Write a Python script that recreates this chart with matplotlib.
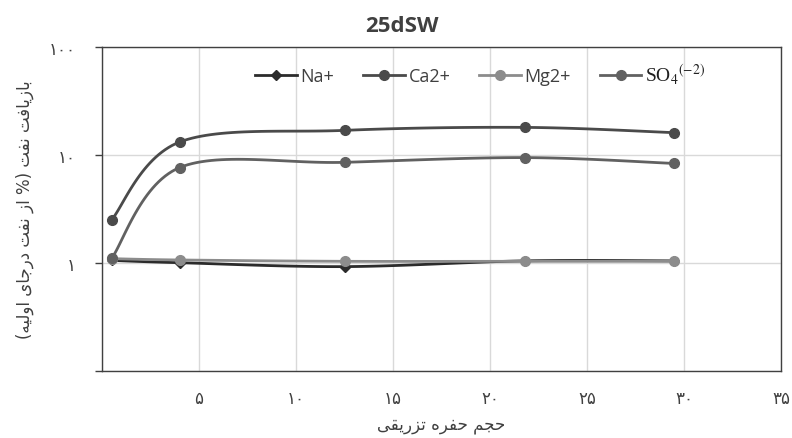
import numpy as np
import matplotlib
matplotlib.use('Agg')
import matplotlib.pyplot as plt
from matplotlib.ticker import FixedLocator, NullLocator

plt.rcParams['mathtext.fontset'] = 'stix'

# داده‌ها (خوانده شده از نمودار)
pore_volume = [0.5, 4, 12.5, 21.8, 29.5]
na_values = [1.05, 1.00, 0.92, 1.04, 1.04]
ca_values = [2.5, 13.1, 16.8, 17.9, 16.0]
mg_values = [1.09, 1.06, 1.03, 1.03, 1.03]
so4_values = [1.10, 7.6, 8.5, 9.4, 8.3]

x_ticks = [0, 5, 10, 15, 20, 25, 30, 35]
x_tick_labels = ['', '۵', '۱۰', '۱۵', '۲۰', '۲۵', '۳۰', '۳۵']
y_ticks = [0.1, 1, 10, 100]
y_tick_labels = ['', '۱', '۱۰', '۱۰۰']

title = '25dSW'
x_label = 'حجم حفره تزریقی'
y_label = 'بازیافت نفت (% از نفت درجای اولیه)'

# شکل‌های اتصال حروف (منفرد، پایانی، آغازی، میانی)
FORMS = {
    'ا': ('\uFE8D', '\uFE8E', None, None),
    'ب': ('\uFE8F', '\uFE90', '\uFE91', '\uFE92'),
    'ت': ('\uFE95', '\uFE96', '\uFE97', '\uFE98'),
    'ج': ('\uFE9D', '\uFE9E', '\uFE9F', '\uFEA0'),
    'ح': ('\uFEA1', '\uFEA2', '\uFEA3', '\uFEA4'),
    'د': ('\uFEA9', '\uFEAA', None, None),
    'ر': ('\uFEAD', '\uFEAE', None, None),
    'ز': ('\uFEAF', '\uFEB0', None, None),
    'ف': ('\uFED1', '\uFED2', '\uFED3', '\uFED4'),
    'ق': ('\uFED5', '\uFED6', '\uFED7', '\uFED8'),
    'ل': ('\uFEDD', '\uFEDE', '\uFEDF', '\uFEE0'),
    'م': ('\uFEE1', '\uFEE2', '\uFEE3', '\uFEE4'),
    'ن': ('\uFEE5', '\uFEE6', '\uFEE7', '\uFEE8'),
    'ه': ('\uFEE9', '\uFEEA', '\uFEEB', '\uFEEC'),
    'و': ('\uFEED', '\uFEEE', None, None),
    'ی': ('\uFEEF', '\uFEF0', '\uFEF3', '\uFEF4'),
}


def shape_rtl(text):
    # matplotlib حروف فارسی را به هم نمی‌چسباند، پس دستی انجام می‌دهیم
    out = []
    for i, ch in enumerate(text):
        if ch not in FORMS:
            out.append(ch)
            continue
        prev = text[i - 1] if i > 0 else ''
        nxt = text[i + 1] if i + 1 < len(text) else ''
        join_prev = prev in FORMS and FORMS[prev][2] is not None
        join_next = FORMS[ch][2] is not None and nxt in FORMS
        iso, fin, ini, med = FORMS[ch]
        if join_prev and join_next:
            out.append(med)
        elif join_prev:
            out.append(fin)
        elif join_next:
            out.append(ini)
        else:
            out.append(iso)
    visual = ''.join(reversed(out))
    return visual.translate(str.maketrans('()', ')('))


def smooth(x, y, n=30):
    # خط نرم شبیه اکسل (بزیه از روی نقاط)
    P = np.column_stack([np.asarray(x, float), np.log10(y)])
    P_ext = np.vstack([P[0], P, P[-1]])
    t = np.linspace(0, 1, n, endpoint=False)[:, None]
    parts = []
    for i in range(len(P) - 1):
        p0, p1, p2, p3 = P_ext[i], P_ext[i + 1], P_ext[i + 2], P_ext[i + 3]
        c1 = p1 + (p2 - p0) / 6
        c2 = p2 - (p3 - p1) / 6
        parts.append((1 - t) ** 3 * p1 + 3 * (1 - t) ** 2 * t * c1
                     + 3 * (1 - t) * t ** 2 * c2 + t ** 3 * p2)
    parts.append(P[-1:])
    curve = np.vstack(parts)
    return curve[:, 0], 10 ** curve[:, 1], list(range(0, len(curve), n))


fig = plt.figure(figsize=(7.92, 4.39), dpi=100)
ax = fig.add_axes([102 / 792, 1 - 371.7 / 439, 679 / 792, 324 / 439])

series = [
    ('Na+', na_values, '#2b2b2b', 'D', 5),
    ('Ca2+', ca_values, '#4a4a4a', 'o', 7),
    ('Mg2+', mg_values, '#8c8c8c', 'o', 7),
    (r'SO$_4$$^{(-2)}$', so4_values, '#616161', 'o', 7),
]
for label, vals, color, marker, ms in series:
    xs, ys, idx = smooth(pore_volume, vals)
    ax.plot(xs, ys, color=color, lw=2.0, marker=marker, ms=ms,
            markevery=idx, label=label)

ax.set_yscale('log')
ax.set_xlim(0, 35)
ax.set_ylim(0.1, 100)

ax.xaxis.set_major_locator(FixedLocator(x_ticks))
ax.set_xticklabels(x_tick_labels, fontfamily='DejaVu Sans', fontsize=12, color='#404040')
ax.yaxis.set_major_locator(FixedLocator(y_ticks))
ax.yaxis.set_minor_locator(NullLocator())
ax.set_yticklabels(y_tick_labels, fontfamily='DejaVu Sans', fontsize=12, color='#404040')
ax.tick_params(axis='x', length=0, pad=13)
ax.tick_params(axis='y', length=5, width=1, color='#404040', pad=14)

ax.grid(True, color='#d9d9d9', lw=1)
ax.set_axisbelow(True)
for side in ['left', 'bottom', 'top', 'right']:
    ax.spines[side].set_color('#404040')
    ax.spines[side].set_linewidth(1)

leg = ax.legend(loc='center', bbox_to_anchor=(0.557, 0.916), ncol=4, frameon=False,
                handlelength=2.3, handletextpad=0.2, columnspacing=1.6,
                prop={'family': 'Open Sans', 'size': 13})
for txt in leg.get_texts():
    txt.set_color('#404040')
leg.get_texts()[3].set_fontfamily('Liberation Serif')
leg.get_texts()[3].set_fontsize(14)
leg.get_texts()[3].set_color('#202020')

fig.text(402 / 792, 1 - 27 / 439, title, ha='center', va='center',
         fontfamily='Open Sans', fontweight='bold', fontsize=16, color='#404040')
fig.text(441.5 / 792, 1 - 425 / 439, shape_rtl(x_label), ha='center', va='center',
         fontfamily='DejaVu Sans', fontsize=12, color='#404040')
fig.text(25 / 792, 1 - 210 / 439, shape_rtl(y_label), ha='center', va='center',
         rotation=90, fontfamily='DejaVu Sans', fontsize=12, color='#404040')

fig.savefig('out.png', dpi=100)
